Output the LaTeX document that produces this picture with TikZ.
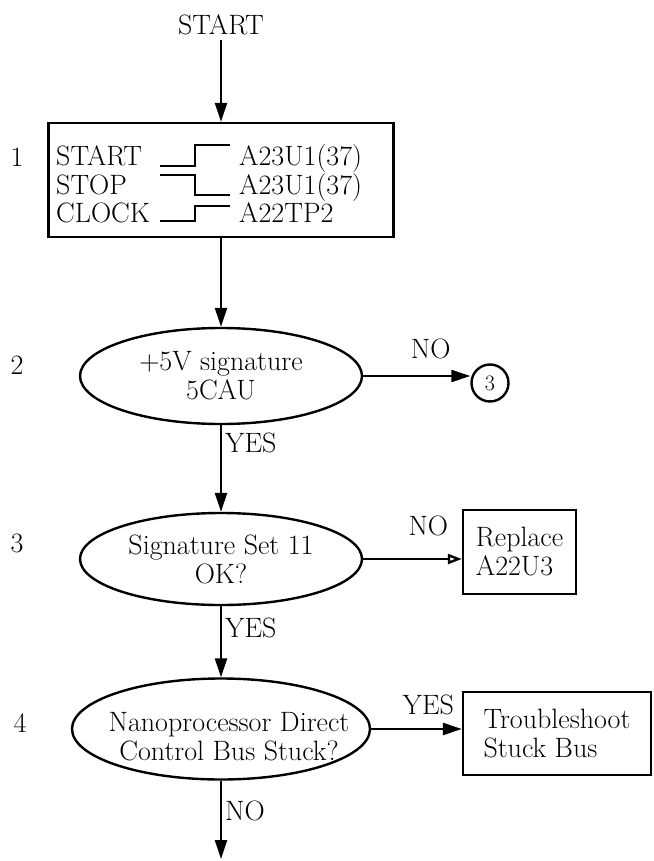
\documentclass[tikz,border=0pt]{standalone}
\usetikzlibrary{shapes.geometric,arrows.meta}
\tikzset{
  decision/.style={draw, ellipse, inner sep=0pt, align=center},
  action/.style={draw, align=left},
  row/.style={anchor=base west, inner sep=0pt},
  wave/.style={line width=1.5pt},
  lbl/.style={inner sep=3pt},
}
\begin{document}
\begin{tikzpicture}[x=1pt, y=-1pt, >={Triangle[length=19pt,width=12pt]}, line width=2.4pt, font=\fontsize{28}{29}\selectfont]
\useasboundingbox (0,0) rectangle (653,861);

\node (start) at (221,25) {START};
\node[draw, minimum width=345, minimum height=114] (b1) at (221,180) {};
\node[row] (s1) at (55,166) {START};
\node[row] (s2) at (55,194) {STOP};
\node[row] (s3) at (55,222) {CLOCK};
\node[row] (a1) at (238,166) {A23U1(37)};
\node[row] (a2) at (238,194) {A23U1(37)};
\node[row] (a3) at (238,222) {A22TP2};
\draw[wave] (160,166) -- (195,166) -- (195,145) -- (230,145);
\draw[wave] (160,175) -- (195,175) -- (195,195) -- (230,195);
\draw[wave] (160,221) -- (195,221) -- (195,206) -- (230,206);

\node[decision, minimum width=282, minimum height=96] (d2) at (221,376) {+5V signature\\5CAU};
\node[draw, circle, minimum size=37, inner sep=0pt, font=\fontsize{22}{22}\selectfont] (c3) at (490,383) {3};
\node[decision, minimum width=282, minimum height=92] (d3) at (221,559) {Signature Set 11\\OK?};
\node[action, minimum width=113, minimum height=84] (r3) at (519.5,552) {Replace\\A22U3};
\node[decision, minimum width=298, minimum height=101] (d4) at (221,729) {};
\node[align=center] (q4) at (229,737) {Nanoprocessor Direct\\Control Bus Stuck?};
\node[action, minimum width=188, minimum height=83] (t4) at (557,733.5) {Troubleshoot\\Stuck Bus};
\coordinate (end) at (221,859);

\node (n1) at (17,157) {1};
\node (n2) at (17,365) {2};
\node (n3) at (17,543) {3};
\node (n4) at (20,723) {4};

\draw[->] (start) -- (b1);
\draw[->] (b1) -- (d2);
\draw[->] (d2.east) -- node[lbl, above=13pt, pos=0.63] {NO} (d2.east -| c3.west);
\draw[->] (d2) -- node[lbl, right, pos=0.21] {YES} (d3);
\draw[-{Triangle[open,length=14pt,width=10pt]}] (d3.east) -- node[lbl, above=19pt, pos=0.66] {NO} (d3.east -| r3.west);
\draw[->] (d3) -- node[lbl, right, pos=0.31] {YES} (d4);
\draw[->] (d4.east) -- node[lbl, above=10pt, pos=0.63] {YES} (d4.east -| t4.west);
\draw[->] (d4) -- node[lbl, right, pos=0.38] {NO} (end);
\end{tikzpicture}
\end{document}
